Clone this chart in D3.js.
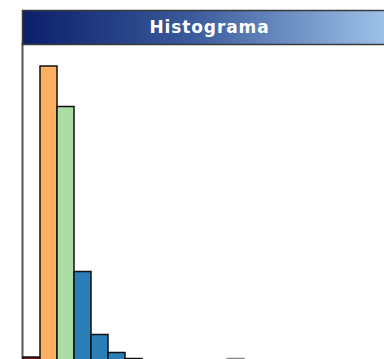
<!DOCTYPE html>
<html>
<head>
<meta charset="utf-8">
<script src="https://cdn.jsdelivr.net/npm/d3@7"></script>
<style>
  html, body { margin: 0; padding: 0; background: #fff; }
  svg { display: block; }
</style>
</head>
<body>
<svg id="chart" width="384" height="359"></svg>
<script>
// Histogram bins (bin index) and their counts
const bins = [0, 1, 2, 3, 4, 5, 6, 7, 8, 9, 10, 11, 12, 13];
const counts = [2, 196, 169, 59, 17, 5, 1, 0, 0, 0, 0, 0, 1, 0];
const binColors = ["#7a0f12", "#fdae61", "#abdda4", "#2b7fb8", "#2b7fb8", "#2b7fb8", "#2b7fb8",
                   "#2b7fb8", "#2b7fb8", "#2b7fb8", "#2b7fb8", "#2b7fb8", "#9a9a9a", "#2b7fb8"];
const title = "Histograma";

const svg = d3.select("#chart");

const frame = { left: 22, right: 397, top: 10, titleH: 34, bottom: 360 };

const x = d3.scaleLinear().domain([0, 22]).range([23, 397]);
const y = d3.scaleLinear().domain([0, 210]).range([360, 45]);

// Title bar gradient
const defs = svg.append("defs");
const grad = defs.append("linearGradient").attr("id", "titleGrad")
  .attr("x1", "0%").attr("x2", "100%").attr("y1", "0%").attr("y2", "0%");
grad.append("stop").attr("offset", "0%").attr("stop-color", "#0b1f6b");
grad.append("stop").attr("offset", "45%").attr("stop-color", "#3a5a9a");
grad.append("stop").attr("offset", "100%").attr("stop-color", "#a4c8ee");

// Plot frame
svg.append("rect")
  .attr("x", frame.left + 0.5).attr("y", frame.top + frame.titleH)
  .attr("width", frame.right - frame.left).attr("height", frame.bottom - frame.top - frame.titleH)
  .attr("fill", "#fff").attr("stroke", "#555").attr("stroke-width", 2);

// Bars
svg.append("g").selectAll("rect")
  .data(bins)
  .join("rect")
  .attr("x", d => x(d))
  .attr("width", d => x(d + 1) - x(d))
  .attr("y", (d, i) => y(counts[i]))
  .attr("height", (d, i) => y(0) - y(counts[i]))
  .attr("fill", (d, i) => binColors[i])
  .attr("stroke", (d, i) => counts[i] > 0 ? (i === 12 ? "#888" : "#111") : "none")
  .attr("stroke-width", 1.5);

// Title bar
svg.append("rect")
  .attr("x", frame.left + 0.5).attr("y", frame.top + 0.5)
  .attr("width", frame.right - frame.left).attr("height", frame.titleH)
  .attr("fill", "url(#titleGrad)").attr("stroke", "#3a3a3a").attr("stroke-width", 1.5);

svg.append("text")
  .attr("x", (frame.left + frame.right) / 2)
  .attr("y", frame.top + frame.titleH / 2 + 1)
  .attr("text-anchor", "middle")
  .attr("dominant-baseline", "middle")
  .attr("fill", "#fff")
  .attr("font-family", "DejaVu Sans, Verdana, sans-serif")
  .attr("font-weight", "bold")
  .attr("font-size", 17)
  .attr("letter-spacing", 0.9)
  .text(title);
</script>
</body>
</html>
